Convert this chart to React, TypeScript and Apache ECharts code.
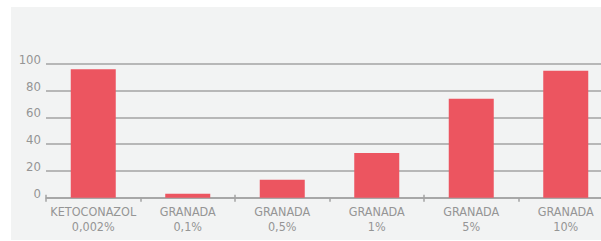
import React, { useEffect, useRef } from "react";
import * as echarts from "echarts";

const categories = [
  "KETOCONAZOL\n0,002%",
  "GRANADA\n0,1%",
  "GRANADA\n0,5%",
  "GRANADA\n1%",
  "GRANADA\n5%",
  "GRANADA\n10%",
];
const values = [96, 3, 13.5, 33.5, 74, 95];
const yMin = 0;
const yMax = 100;
const yInterval = 20;

const FONT = '"Liberation Sans Narrow", "DejaVu Sans Condensed", "Roboto", sans-serif';
const TEXT = "#959595";
const LINE = "#a3a3a3";

export default function App() {
  const ref = useRef<HTMLDivElement>(null);
  useEffect(() => {
    if (!ref.current) return;
    const chart = echarts.init(ref.current, undefined, { renderer: "svg" });
    chart.setOption({
      animation: false,
      backgroundColor: "#ffffff",
      graphic: [
        {
          type: "rect",
          z: -10,
          silent: true,
          shape: { x: 11, y: 7, width: 602, height: 233 },
          style: { fill: "#f2f3f3" },
        },
      ],
      grid: { left: 46, right: 0, top: 64, bottom: 43.3, containLabel: false },
      xAxis: [
        {
          type: "category",
          data: categories,
          position: "bottom",
          axisLine: { show: true, lineStyle: { color: LINE, width: 1.5 } },
          axisTick: { show: true, length: 4, lineStyle: { color: LINE, width: 1.5 } },
          axisLabel: {
            color: TEXT,
            fontFamily: FONT,
            fontSize: 12.5,
            lineHeight: 15,
            margin: 6,
            interval: 0,
          },
          splitLine: { show: false },
        },
        {
          type: "category",
          data: categories,
          position: "bottom",
          axisLine: { show: false },
          axisTick: { show: true, inside: true, length: 3, lineStyle: { color: LINE, width: 1.5 } },
          axisLabel: { show: false },
          splitLine: { show: false },
        },
      ],
      yAxis: {
        type: "value",
        min: yMin,
        max: yMax,
        interval: yInterval,
        axisLine: { show: false },
        axisTick: { show: false },
        axisLabel: {
          color: TEXT,
          fontFamily: FONT,
          fontSize: 13,
          margin: 5,
          verticalAlign: "bottom",
          lineHeight: 9,
        },
        splitLine: { show: true, lineStyle: { color: LINE, width: 1.5 } },
      },
      series: [
        {
          type: "bar",
          data: values,
          barWidth: 45,
          itemStyle: { color: "#ec5560" },
          xAxisIndex: 0,
        },
      ],
    });
    return () => chart.dispose();
  }, []);
  return (
    <div
      style={{
        position: "fixed",
        left: 0,
        top: 0,
        width: 601,
        height: 241,
        overflow: "hidden",
        background: "#fff",
      }}
    >
      <div ref={ref} style={{ position: "absolute", left: 0, top: 0, width: 613, height: 241 }} />
    </div>
  );
}
